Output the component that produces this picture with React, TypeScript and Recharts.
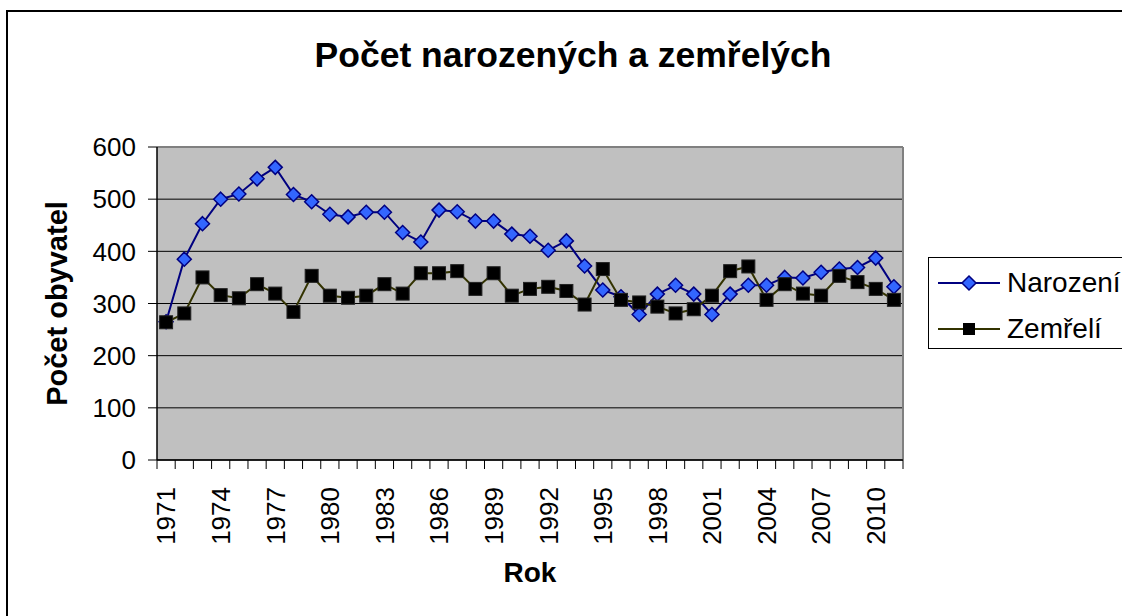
import React from "react";
import {
  LineChart,
  Line,
  XAxis,
  YAxis,
  CartesianGrid,
  ReferenceLine,
  Label,
} from "recharts";

const YEARS = [
  1971, 1972, 1973, 1974, 1975, 1976, 1977, 1978, 1979, 1980,
  1981, 1982, 1983, 1984, 1985, 1986, 1987, 1988, 1989, 1990,
  1991, 1992, 1993, 1994, 1995, 1996, 1997, 1998, 1999, 2000,
  2001, 2002, 2003, 2004, 2005, 2006, 2007, 2008, 2009, 2010,
  2011,
];

const NAROZENI = [
  265, 385, 453, 500, 510, 539, 561, 509, 495, 471,
  466, 475, 475, 436, 418, 479, 476, 458, 458, 433,
  429, 402, 420, 372, 326, 313, 279, 318, 335, 318,
  279, 318, 335, 335, 350, 349, 360, 366, 369, 387,
  332,
];

const ZEMRELI = [
  264, 281, 350, 316, 310, 337, 319, 284, 353, 315,
  311, 315, 337, 319, 358, 358, 362, 328, 358, 315,
  328, 332, 324, 298, 366, 307, 302, 294, 281, 289,
  315, 362, 371, 307, 337, 319, 315, 353, 341, 328,
  307,
];

const X_LABEL_YEARS = [
  1971, 1974, 1977, 1980, 1983, 1986, 1989, 1992, 1995, 1998, 2001, 2004,
  2007, 2010,
];

const Y_TICKS = [0, 100, 200, 300, 400, 500, 600];

const SERIES_NAMES = ["Narození", "Zemřelí"];
const TITLE = "Počet narozených a zemřelých";
const Y_TITLE = "Počet obyvatel";
const X_TITLE = "Rok";

const FONT = '"Liberation Sans", Arial, sans-serif';
const BLUE_LINE = "#000080";
const BLUE_FILL = "#3366ff";
const OLIVE_LINE = "#333300";

const data = YEARS.map((year, i) => ({
  year,
  narozeni: NAROZENI[i],
  zemreli: ZEMRELI[i],
}));

const boundaries = [YEARS[0] - 0.5, ...YEARS.map((y) => y + 0.5)];
const xTicks = [...boundaries, ...X_LABEL_YEARS].sort((a, b) => a - b);

const XTick = (props: any) => {
  const { x, y, payload } = props;
  const v = payload.value;
  if (Number.isInteger(v)) {
    return (
      <text
        x={x}
        y={y}
        dx={-18}
        dy="0.36em"
        transform={`rotate(-90, ${x}, ${y})`}
        textAnchor="end"
        fontSize={26}
        fontFamily={FONT}
        fill="#000"
      >
        {v}
      </text>
    );
  }
  return <line x1={x} x2={x} y1={y - 9} y2={y} stroke="#000" strokeWidth={1} />;
};

const DiamondDot = (props: any) => {
  const { cx, cy, index } = props;
  if (cx == null || cy == null) return <g key={`d-${index}`} />;
  const r = 7;
  return (
    <path
      key={`d-${index}`}
      d={`M${cx},${cy - r} L${cx + r},${cy} L${cx},${cy + r} L${cx - r},${cy} Z`}
      fill={BLUE_FILL}
      stroke={BLUE_LINE}
      strokeWidth={1.5}
    />
  );
};

const SquareDot = (props: any) => {
  const { cx, cy, index } = props;
  if (cx == null || cy == null) return <g key={`s-${index}`} />;
  const h = 6.5;
  return (
    <rect
      key={`s-${index}`}
      x={cx - h}
      y={cy - h}
      width={h * 2}
      height={h * 2}
      fill="#000"
      stroke="#222"
      strokeWidth={1}
    />
  );
};

const LegendIcon = ({ kind }: { kind: number }) => (
  <svg width={62} height={20} style={{ display: "block", flex: "none" }}>
    <line
      x1={0}
      x2={62}
      y1={10}
      y2={10}
      stroke={kind === 0 ? BLUE_LINE : OLIVE_LINE}
      strokeWidth={2}
    />
    {kind === 0 ? (
      <path
        d="M31,3 L38,10 L31,17 L24,10 Z"
        fill={BLUE_FILL}
        stroke={BLUE_LINE}
        strokeWidth={1.5}
      />
    ) : (
      <rect x={25} y={4} width={12} height={12} fill="#000" />
    )}
  </svg>
);

const YTitle = (props: any) => {
  const vb = props.viewBox || {};
  const x = vb.x + 10;
  const y = vb.y + vb.height / 2;
  return (
    <text
      x={x}
      y={y}
      transform={`rotate(-90, ${x}, ${y})`}
      textAnchor="middle"
      fontSize={29}
      fontWeight="bold"
      fontFamily={FONT}
      fill="#000"
    >
      {Y_TITLE}
    </text>
  );
};

const XTitle = (props: any) => {
  const vb = props.viewBox || {};
  const x = vb.x + vb.width / 2;
  const y = vb.y + 122;
  return (
    <text
      x={x}
      y={y}
      textAnchor="middle"
      fontSize={28}
      fontWeight="bold"
      fontFamily={FONT}
      fill="#000"
    >
      {X_TITLE}
    </text>
  );
};

export default function App() {
  return (
    <div
      style={{
        position: "absolute",
        left: 0,
        top: 0,
        width: 1122,
        height: 616,
        overflow: "hidden",
        background: "#fff",
        fontFamily: FONT,
      }}
    >
      <div
        style={{
          position: "absolute",
          left: 6,
          top: 10,
          width: 1300,
          height: 800,
          border: "2px solid #000",
        }}
      />
      <div
        style={{
          position: "absolute",
          left: 0,
          top: 37,
          width: 1146,
          textAlign: "center",
          fontSize: 35.5,
          fontWeight: "bold",
          lineHeight: "36px",
          color: "#000",
          whiteSpace: "nowrap",
        }}
      >
        {TITLE}
      </div>
      <div style={{ position: "absolute", left: 0, top: 0 }}>
        <LineChart
          width={1122}
          height={616}
          data={data}
          margin={{ top: 147, right: 219, bottom: 56, left: 57 }}
        >
          <CartesianGrid
            vertical={false}
            horizontal={true}
            fill="#c0c0c0"
            stroke="#000"
            strokeOpacity={1}
          />
          <XAxis
            dataKey="year"
            type="number"
            domain={[boundaries[0], boundaries[boundaries.length - 1]]}
            ticks={xTicks}
            interval={0}
            allowDecimals={true}
            allowDataOverflow={true}
            tickLine={false}
            tickSize={9}
            tickMargin={0}
            axisLine={{ stroke: "#000", strokeWidth: 1.5 }}
            tick={<XTick />}
            height={100}
          >
            <Label content={<XTitle />} />
          </XAxis>
          <YAxis
            type="number"
            domain={[0, 600]}
            ticks={Y_TICKS}
            interval={0}
            width={100}
            tickSize={9}
            tickMargin={12}
            axisLine={{ stroke: "#000", strokeWidth: 1.5 }}
            tickLine={{ stroke: "#000" }}
            tick={{ fontSize: 26, fill: "#000", fontFamily: FONT }}
          >
            <Label content={<YTitle />} />
          </YAxis>
          <ReferenceLine y={600} stroke="#808080" strokeWidth={2} />
          <ReferenceLine
            x={boundaries[boundaries.length - 1]}
            stroke="#808080"
            strokeWidth={2}
          />
          <Line
            name={SERIES_NAMES[0]}
            dataKey="narozeni"
            stroke={BLUE_LINE}
            strokeWidth={2}
            dot={DiamondDot}
            activeDot={false}
            isAnimationActive={false}
          />
          <Line
            name={SERIES_NAMES[1]}
            dataKey="zemreli"
            stroke={OLIVE_LINE}
            strokeWidth={2}
            dot={SquareDot}
            activeDot={false}
            isAnimationActive={false}
          />
        </LineChart>
      </div>
      <div
        style={{
          position: "absolute",
          left: 928,
          top: 257,
          border: "1px solid #000",
          background: "#fff",
          width: 240,
          height: 88,
          paddingTop: 2,
          boxSizing: "content-box",
        }}
      >
        {SERIES_NAMES.map((name, i) => (
          <div
            key={name}
            style={{
              height: 46,
              display: "flex",
              alignItems: "center",
              paddingLeft: 9,
            }}
          >
            <LegendIcon kind={i} />
            <span style={{ marginLeft: 7, fontSize: 28, color: "#000", lineHeight: 1 }}>
              {name}
            </span>
          </div>
        ))}
      </div>
    </div>
  );
}
